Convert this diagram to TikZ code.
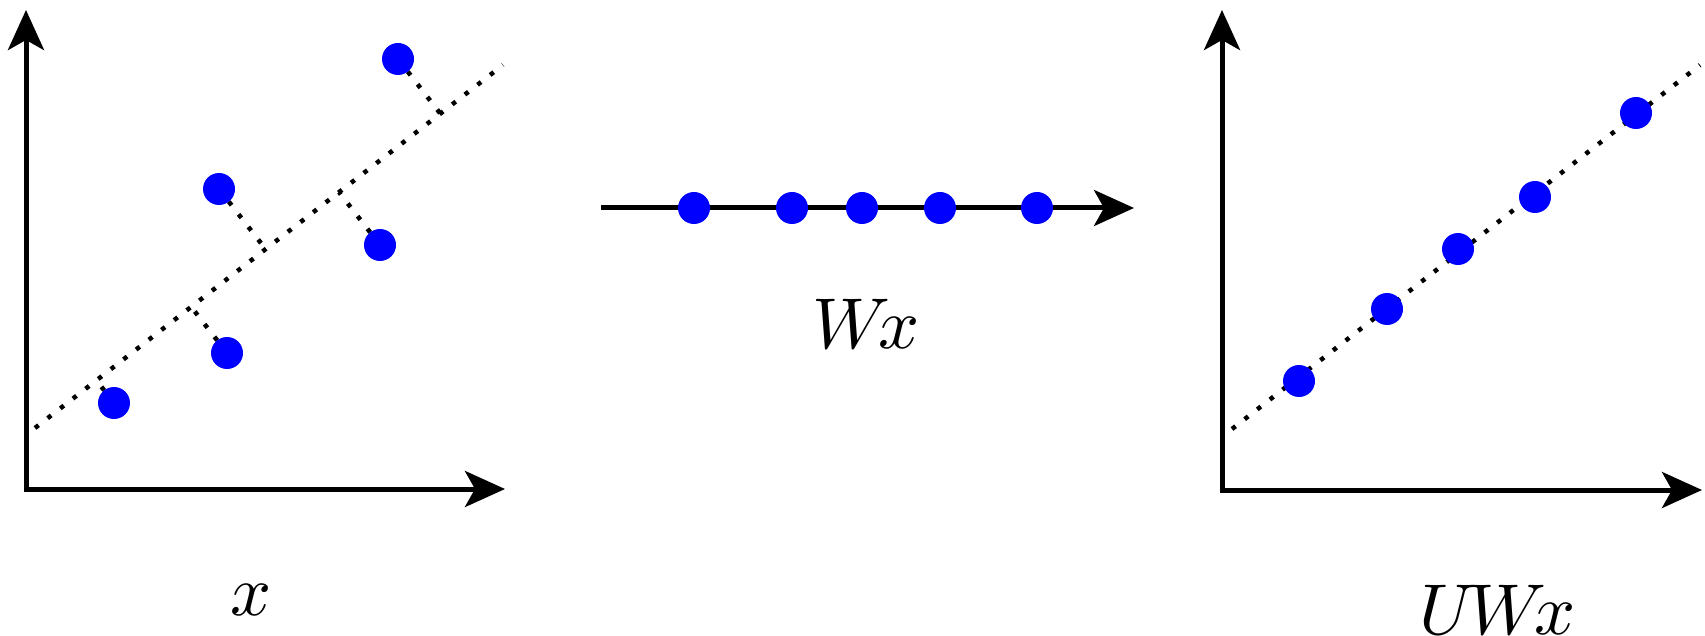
\documentclass[tikz,border=0pt]{standalone}
\usetikzlibrary{arrows.meta,calc}
\begin{document}
\begin{tikzpicture}[x=1pt,y=-1pt,
  axis/.style={line width=5pt,line join=miter,-{Stealth[length=40pt,width=36pt,inset=10pt]}},
  axis2/.style={line width=5pt,line join=miter,{Stealth[length=40pt,width=36pt,inset=10pt]}-{Stealth[length=40pt,width=36pt,inset=10pt]}},
  dotline/.style={line width=4.5pt,dash pattern=on 4.5pt off 11.5pt},
  pt/.style={circle,fill={rgb,255:red,0;green,0;blue,255},inner sep=0pt,minimum size=32pt},
  lbl/.style={anchor=base,inner sep=0pt,scale=7.2}]
\useasboundingbox (0,0) rectangle (1705,636);
% ---------- left panel ----------
\coordinate (Ly) at (26,10);
\coordinate (Lo) at (26,489);
\coordinate (Lx) at (505,489);
\draw[axis2] (Ly) -- (Lo) -- (Lx);
\coordinate (La) at (35,428);
\coordinate (Lb) at (503,65);
\draw[dotline] (La) -- (Lb);
\coordinate (l1) at (114,403);
\coordinate (l2) at (227,353);
\coordinate (l3) at (219,189);
\coordinate (l4) at (380,245);
\coordinate (l5) at (398,59);
\foreach \p in {l1,l2,l3,l4,l5}{
  \draw[dotline] (\p) -- ($(La)!(\p)!(Lb)$);
}
\foreach \p in {l1,l2,l3,l4,l5}{
  \node[pt] (n\p) at (\p) {};
}
\node[lbl] (xlab) at (251,615) {$x$};
% ---------- middle ----------
\coordinate (Ma) at (601,208);
\coordinate (Mb) at (1134,208);
\draw[axis] (Ma) -- (Mb);
\node[pt] (m1) at (694,208) {};
\node[pt] (m2) at (792,208) {};
\node[pt] (m3) at (862,208) {};
\node[pt] (m4) at (940,208) {};
\node[pt] (m5) at (1037,208) {};
\node[lbl] (wxlab) at (866,348) {$W\mkern-3mu x$};
% ---------- right panel ----------
\coordinate (Ry) at (1222,10);
\coordinate (Ro) at (1222,490);
\coordinate (Rx) at (1702,490);
\draw[axis2] (Ry) -- (Ro) -- (Rx);
\coordinate (Ra) at (1232,429);
\coordinate (Rb) at (1700,65);
\draw[dotline] (Ra) -- (Rb);
\node[pt] (r1) at (1299,381) {};
\node[pt] (r2) at (1387,309) {};
\node[pt] (r3) at (1458,249) {};
\node[pt] (r4) at (1535,197) {};
\node[pt] (r5) at (1636,113) {};
\node[lbl] (uwxlab) at (1498,634) {$U\mkern-2mu W\mkern-3mu x$};
\end{tikzpicture}
\end{document}
